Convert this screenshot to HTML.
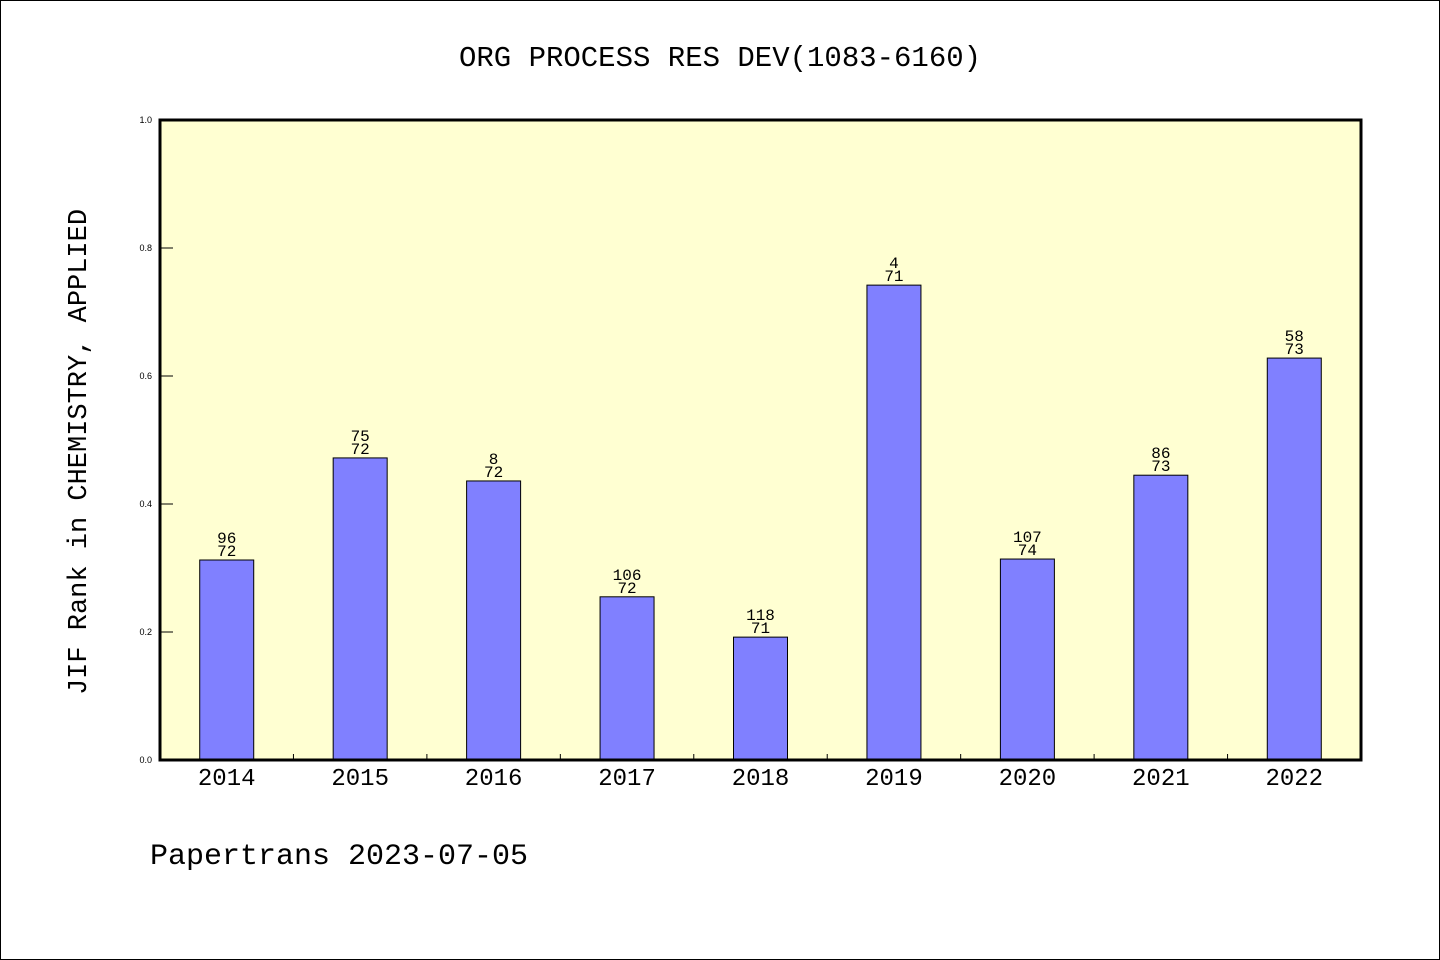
<!DOCTYPE html>
<html><head><meta charset="utf-8"><style>
html,body{margin:0;padding:0;background:#fff}
svg{display:block}
text{font-family:"Liberation Mono","WenQuanYi Zen Hei",monospace;fill:#000}
</style></head><body>
<svg id="chart" width="1440" height="960" xmlns="http://www.w3.org/2000/svg">
<rect x="0.5" y="0.5" width="1439" height="959" fill="#fff" stroke="#000" stroke-width="1"/>
<text x="720" y="66" font-size="29" text-anchor="middle">ORG PROCESS RES DEV(1083-6160)</text>
<rect x="160" y="120" width="1201" height="640" fill="#ffffd2"/>
<g id="bars"></g>
<g id="axes"></g>
<rect x="160" y="120" width="1201" height="640" fill="none" stroke="#000" stroke-width="3"/>
<text transform="translate(86,452) rotate(-90)" font-size="27" text-anchor="middle">JIF Rank in CHEMISTRY, APPLIED</text>
<text x="150" y="864" font-size="30">Papertrans 2023-07-05</text>
</svg>
<script>
const categories=["2014","2015","2016","2017","2018","2019","2020","2021","2022"];
const values=[0.3125,0.472,0.436,0.255,0.192,0.742,0.314,0.445,0.628];
const topLabels=["96","75","8","106","118","4","107","86","58"];
const bottomLabels=["72","72","72","72","71","71","74","73","73"];
const yTicks=[0,0.2,0.4,0.6,0.8,1.0];
const yTickLabels=["0.0","0.2","0.4","0.6","0.8","1.0"];
const X0=160,X1=1361,Y0=760,Y1=120;
const NS="http://www.w3.org/2000/svg";
const band=(X1-X0)/categories.length;
const xc=i=>X0+band*(i+0.5);
const y=v=>Y0-(v)*(Y0-Y1);
const bars=document.getElementById('bars'),axes=document.getElementById('axes');
function mk(tag,attrs,parent){const e=document.createElementNS(NS,tag);for(const k in attrs)e.setAttribute(k,attrs[k]);parent.appendChild(e);return e;}
categories.forEach((c,i)=>{
  const bw=54,top=y(values[i]);
  const r=mk('rect',{x:xc(i)-bw/2,y:top,width:bw,height:Y0-top,fill:'#8080ff',stroke:'#000','stroke-width':1},bars);
  
  
  const t1=mk('text',{x:xc(i),y:top-17,'font-size':16,'text-anchor':'middle'},bars);t1.textContent=topLabels[i];
  
  
  const t2=mk('text',{x:xc(i),y:top-4,'font-size':16,'text-anchor':'middle'},bars);t2.textContent=bottomLabels[i];
  
  
  const xl=mk('text',{x:xc(i),y:785,'font-size':24,'text-anchor':'middle'},axes);xl.textContent=c;
  
  
  if(i>0){const tk=mk('line',{x1:X0+band*i,x2:X0+band*i,y1:Y0,y2:Y0-6,stroke:'#000','stroke-width':1},axes);
  
  }
});
yTicks.forEach((v,i)=>{
  const tk=mk('line',{x1:X0,x2:X0+13,y1:y(v),y2:y(v),stroke:'#000','stroke-width':1},axes);
  
  
  const t=mk('text',{x:X0-8,y:y(v)+3,'font-size':9,'text-anchor':'end',style:'font-family:"Liberation Sans",sans-serif'},axes);t.textContent=yTickLabels[i];
  
  
});
</script>
</body></html>
